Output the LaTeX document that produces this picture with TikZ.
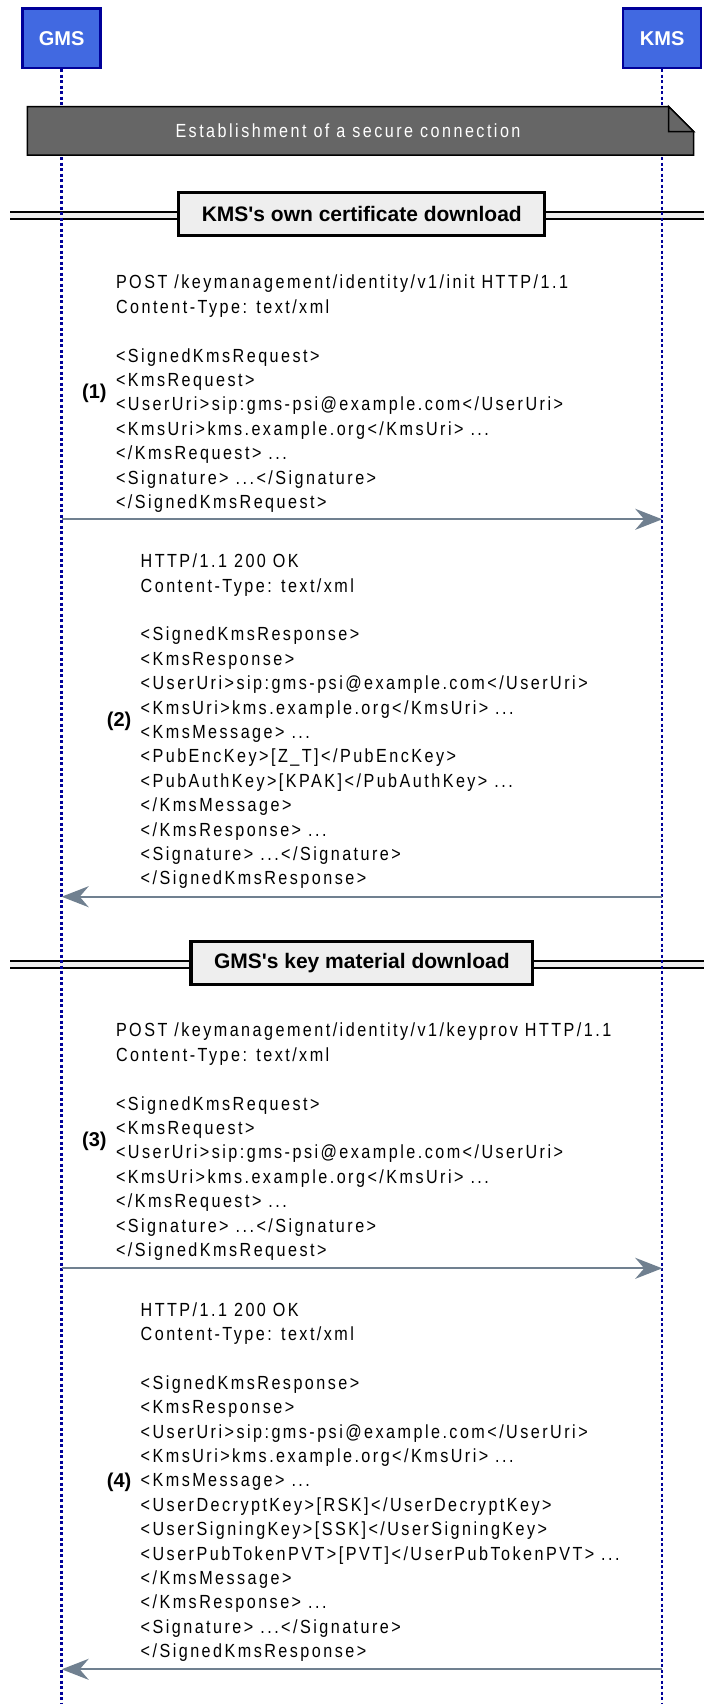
\documentclass[tikz,border=0pt]{standalone}
\usepackage{fontspec}
\setmainfont{Liberation Sans}
\newfontfamily\msgfont{Liberation Sans}[FakeStretch=0.85,LetterSpace=13]
\usetikzlibrary{arrows.meta}
\definecolor{actorfill}{HTML}{4169E1}
\definecolor{actordraw}{HTML}{000099}
\definecolor{notefill}{HTML}{666666}
\definecolor{divfill}{HTML}{EEEEEE}
\definecolor{arrowcol}{HTML}{708090}
\begin{document}
\begin{tikzpicture}[x=1pt,y=-1pt,
  actor/.style={draw=actordraw, fill=actorfill, line width=2.5pt, minimum width=78pt, minimum height=59.5pt, inner sep=0pt, text=white, font=\fontsize{20}{24}\selectfont\bfseries},
  lifeline/.style={draw=actordraw, line width=2.5pt, dash pattern=on 3pt off 2.5pt},
  notebody/.style={fill=notefill, draw=black, line width=1.5pt, line join=miter},
  notebox/.style={inner sep=0pt, minimum width=641pt, minimum height=48.2pt, text=white, font=\msgfont\fontsize{19}{24.4}\selectfont},
  divline/.style={draw=black, line width=2pt, double=divfill, double distance=5pt},
  divbox/.style={draw=black, fill=divfill, line width=3.3pt, inner xsep=23pt, inner ysep=0pt, minimum height=43.3pt, font=\fontsize{21}{25}\selectfont\bfseries},
  msg/.style={align=left, inner sep=0pt, font=\msgfont\fontsize{19}{24.4}\selectfont},
  num/.style={inner sep=0pt, font=\fontsize{20}{24}\selectfont\bfseries},
  msgarrow/.style={draw=arrowcol, line width=2pt, -{Stealth[length=27pt,width=21pt,inset=9pt]}}
]
\fill[white] (0,0) rectangle (704,1704);
\useasboundingbox (0,0) rectangle (704,1704);

% actors
\node[actor] (gms) at (61.7,38.2) {GMS};
\node[actor] (kms) at (662.2,38.2) {KMS};
\coordinate (gmsend) at (61.7,1704);
\coordinate (kmsend) at (662.2,1704);

% dividers
\node[divbox] (div1) at (361.8,214) {KMS\textquotesingle s own certificate download};
\coordinate (div1l) at (10,215.3);
\coordinate (div1r) at (704,215.3);
\draw[divline] (div1l) -- (div1l -| div1.west);
\draw[divline] (div1r -| div1.east) -- (div1r);
\node[divbox] (div2) at (361.8,963) {GMS\textquotesingle s key material download};
\coordinate (div2l) at (10,964.3);
\coordinate (div2r) at (704,964.3);
\draw[divline] (div2l) -- (div2l -| div2.west);
\draw[divline] (div2r -| div2.east) -- (div2r);

% lifelines
\draw[lifeline] (gms.south) -- (gmsend);
\draw[lifeline] (kms.south) -- (kmsend);

% note
\path (348,130.9) node[notebox] (note) {};
\draw[notebody] (note.north west) -- (note.north east) -- ([xshift=25pt,yshift=-25pt]note.north east) -- ([xshift=25pt]note.south east) -- (note.south west) -- cycle;
\draw[notebody] (note.north east) -- ([yshift=-25pt]note.north east) -- ([xshift=25pt,yshift=-25pt]note.north east) -- cycle;
\node[notebox] at (note) {Establishment of a secure connection};

% message 1
\node[msg, anchor=west] (m1) at (115.8,393.7) {POST /keymanagement/identity/v1/init HTTP/1.1\\
Content-Type: text/xml\\[24.4pt]
<SignedKmsRequest>\\
<KmsRequest>\\
<UserUri>sip:gms-psi@example.com</UserUri>\\
<KmsUri>kms.example.org</KmsUri> ...\\
</KmsRequest> ...\\
<Signature> ...</Signature>\\
</SignedKmsRequest>};
\node[num, anchor=east] (n1) at ([xshift=-9pt]m1.west) {(1)};
\coordinate (a1s) at (61.7,519.3);
\coordinate (a1e) at (662.2,519.3);
\draw[msgarrow] (a1s) -- (a1e);

% message 2
\node[msg, anchor=west] (m2) at (140.5,721.4) {HTTP/1.1 200 OK\\
Content-Type: text/xml\\[24.4pt]
<SignedKmsResponse>\\
<KmsResponse>\\
<UserUri>sip:gms-psi@example.com</UserUri>\\
<KmsUri>kms.example.org</KmsUri> ...\\
<KmsMessage> ...\\
<PubEncKey>[Z\_T]</PubEncKey>\\
<PubAuthKey>[KPAK]</PubAuthKey> ...\\
</KmsMessage>\\
</KmsResponse> ...\\
<Signature> ...</Signature>\\
</SignedKmsResponse>};
\node[num, anchor=east] (n2) at ([xshift=-9pt]m2.west) {(2)};
\coordinate (a2s) at (662.2,896.7);
\coordinate (a2e) at (61.7,896.7);
\draw[msgarrow] (a2s) -- (a2e);

% message 3
\node[msg, anchor=west] (m3) at (115.8,1141.7) {POST /keymanagement/identity/v1/keyprov HTTP/1.1\\
Content-Type: text/xml\\[24.4pt]
<SignedKmsRequest>\\
<KmsRequest>\\
<UserUri>sip:gms-psi@example.com</UserUri>\\
<KmsUri>kms.example.org</KmsUri> ...\\
</KmsRequest> ...\\
<Signature> ...</Signature>\\
</SignedKmsRequest>};
\node[num, anchor=east] (n3) at ([xshift=-9pt]m3.west) {(3)};
\coordinate (a3s) at (61.7,1268.3);
\coordinate (a3e) at (662.2,1268.3);
\draw[msgarrow] (a3s) -- (a3e);

% message 4
\node[msg, anchor=west] (m4) at (140.5,1482) {HTTP/1.1 200 OK\\
Content-Type: text/xml\\[24.4pt]
<SignedKmsResponse>\\
<KmsResponse>\\
<UserUri>sip:gms-psi@example.com</UserUri>\\
<KmsUri>kms.example.org</KmsUri> ...\\
<KmsMessage> ...\\
<UserDecryptKey>[RSK]</UserDecryptKey>\\
<UserSigningKey>[SSK]</UserSigningKey>\\
<UserPubTokenPVT>[PVT]</UserPubTokenPVT> ...\\
</KmsMessage>\\
</KmsResponse> ...\\
<Signature> ...</Signature>\\
</SignedKmsResponse>};
\node[num, anchor=east] (n4) at ([xshift=-9pt]m4.west) {(4)};
\coordinate (a4s) at (662.2,1669.3);
\coordinate (a4e) at (61.7,1669.3);
\draw[msgarrow] (a4s) -- (a4e);
\end{tikzpicture}
\end{document}
